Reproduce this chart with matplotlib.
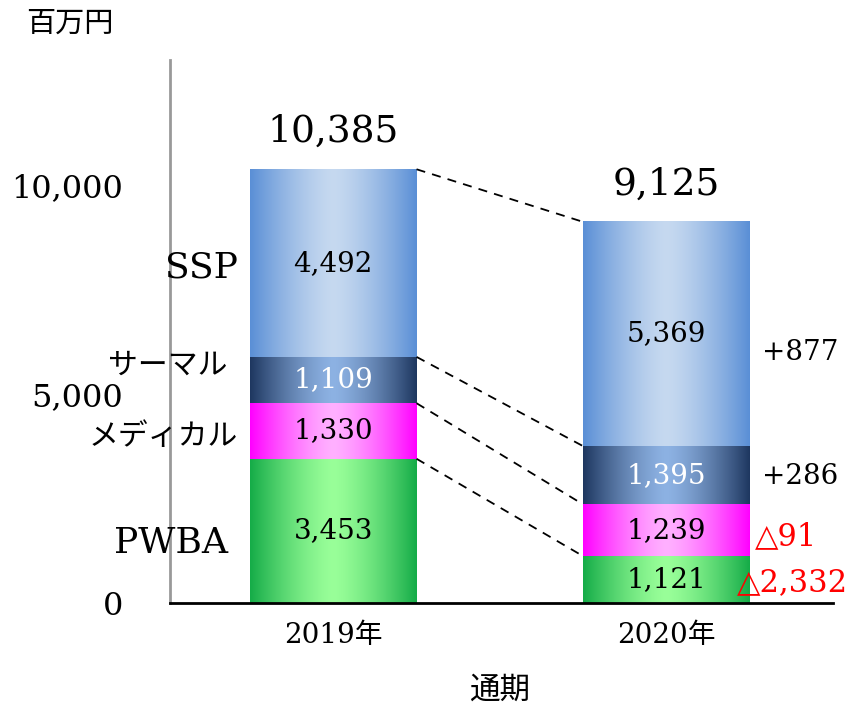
import numpy as np
import matplotlib.pyplot as plt
from matplotlib.colors import to_rgb

years = ['2019年', '2020年']
segments = ['PWBA', 'メディカル', 'サーマル', 'SSP']
v2019 = [3453, 1330, 1109, 4492]
v2020 = [1121, 1239, 1395, 5369]
totals = [10385, 9125]
yticks = [0, 5000, 10000]

# gradient colours: edge of bar -> centre of bar
edge_colors = ['#15AC48', '#FF00FF', '#1E3760', '#5A8FD6']
mid_colors = ['#99FF99', '#FFB0FF', '#8DB2E3', '#C6D9F0']
text_colors = ['black', 'black', 'white', 'black']

SERIF = 'DejaVu Serif'
JP = 'Noto Sans CJK JP'

fig = plt.figure(figsize=(8.51, 7.13), dpi=100)
ax = fig.add_axes([170 / 851, 110 / 713, 663 / 851, 543 / 713])

x = np.arange(len(years))
width = 0.5
u = np.linspace(0, 1, 256)
t = np.abs(2 * u - 1) ** 1.4

bottoms = np.zeros(len(years))
tops = []
for i, name in enumerate(segments):
    vals = np.array([v2019[i], v2020[i]])
    bars = ax.bar(x, vals, width, bottom=bottoms, color='none', edgecolor='none')
    e = np.array(to_rgb(edge_colors[i]))
    m = np.array(to_rgb(mid_colors[i]))
    img = (m + (e - m) * t[:, None])[None, :, :]
    for bar, v in zip(bars, vals):
        x0, y0, w, h = bar.get_x(), bar.get_y(), bar.get_width(), bar.get_height()
        ax.imshow(img, extent=[x0, x0 + w, y0, y0 + h], aspect='auto', zorder=1,
                  interpolation='bilinear')
        ax.text(x0 + w / 2, y0 + h / 2, f'{v:,}', ha='center', va='center',
                fontsize=20, color=text_colors[i], family=SERIF, zorder=3)
    bottoms = bottoms + vals
    tops.append(bottoms.copy())

# dashed connectors between bar boundaries
for top in tops:
    ax.plot([x[0] + width / 2, x[1] - width / 2], [top[0], top[1]],
            color='black', lw=1.3, ls=(0, (5, 4)), zorder=2)

# totals above bars
for xi, tot in zip(x, totals):
    ax.annotate(f'{tot:,}', (xi, tot), xytext=(0, 37), textcoords='offset pixels',
                ha='center', va='center', fontsize=27, family=SERIF)

# segment names left of 2019 bar
mids19 = np.cumsum(v2019) - np.array(v2019) / 2
name_offsets = [(-22, -12), (-12, -6), (-22, 15), (-12, -4)]
for i, name in enumerate(segments):
    fam = SERIF if name.isascii() else JP
    size = 26 if name.isascii() else 21.5
    ax.annotate(name, (x[0] - width / 2, mids19[i]), xytext=name_offsets[i],
                textcoords='offset pixels', ha='right', va='center',
                fontsize=size, family=fam)

# change vs previous year, right of 2020 bar
mids20 = np.cumsum(v2020) - np.array(v2020) / 2
diff_offsets = [(-13, -3), (5, -6), (12, -1), (12, -18)]
for i in range(len(segments)):
    d = v2020[i] - v2019[i]
    if d >= 0:
        lbl, col, size = f'+{d:,}', 'black', 20
    else:
        lbl, col, size = f'△{-d:,}', 'red', 22
    ax.annotate(lbl, (x[1] + width / 2, mids20[i]), xytext=diff_offsets[i],
                textcoords='offset pixels', ha='left', va='center',
                fontsize=size, color=col, family=[SERIF, 'DejaVu Sans'])

ax.set_xlim(-0.49, 1.5)
ax.set_ylim(0, 13000)
ax.set_xticks(x)
ax.set_xticklabels(years)
ax.set_yticks(yticks)
ax.set_yticklabels([f'{v:,}' for v in yticks])
ax.tick_params(axis='both', length=0)
ax.tick_params(axis='y', pad=34, labelsize=23)
ax.tick_params(axis='x', pad=14, labelsize=20)
for lbl in ax.get_yticklabels():
    lbl.set_fontfamily(SERIF)
for lbl in ax.get_xticklabels():
    lbl.set_fontfamily([SERIF, JP])

for s in ['top', 'right']:
    ax.spines[s].set_visible(False)
ax.spines['left'].set_color('#999999')
ax.spines['left'].set_linewidth(2)
ax.spines['bottom'].set_color('black')
ax.spines['bottom'].set_linewidth(2)
ax.spines['bottom'].set_zorder(4)

fig.text(70 / 851, 1 - 24 / 713, '百万円', ha='center', va='center', fontsize=21, family=JP)
fig.text(500 / 851, 1 - 690 / 713, '通期', ha='center', va='center', fontsize=22, family=JP)

fig.savefig('out.png', dpi=100)
